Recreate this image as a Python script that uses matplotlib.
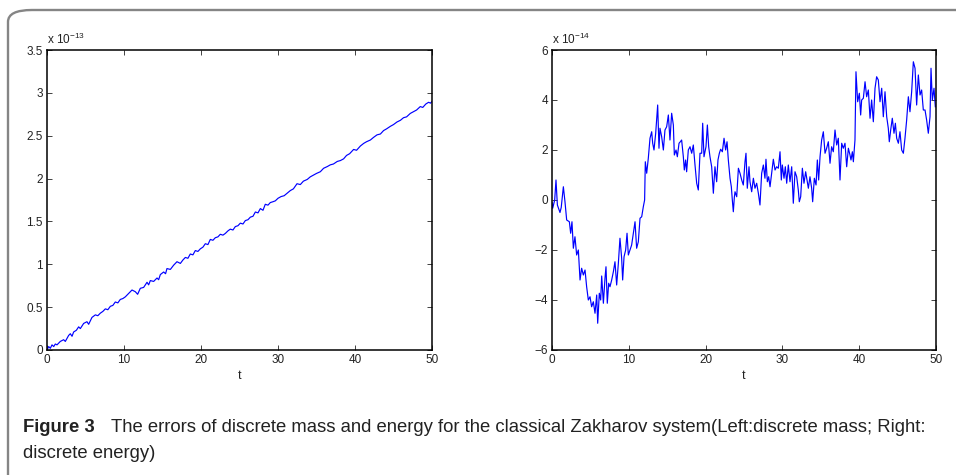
import numpy as np
import matplotlib.pyplot as plt
from matplotlib.patches import FancyBboxPatch

# discrete mass error (units of 1e-13)
t_mass = [0, 0.22, 0.43, 0.65, 0.87, 1.08, 1.3, 1.73, 2.16, 2.38, 2.81, 3.03, 3.25, 3.46, 3.81,
          4.11, 4.33, 4.76, 5.19, 5.41, 5.84, 6.28, 6.6, 6.93, 7.25, 7.58, 7.9, 8.23, 8.55, 8.87,
          9.2, 9.52, 9.85, 10.17, 10.61, 11.04, 11.47, 11.77, 12.12, 12.55, 12.99, 13.2, 13.42,
          13.85, 14.29, 14.5, 14.72, 15.15, 15.4, 15.58, 16.02, 16.45, 16.88, 17.32, 17.65, 17.97,
          18.3, 18.61, 18.95, 19.26, 19.6, 19.91, 20.25, 20.56, 20.9, 21.21, 21.55, 21.86, 22.2,
          22.51, 22.85, 23.16, 23.5, 23.81, 24.15, 24.46, 24.8, 25.11, 25.45, 25.76, 26.1, 26.41,
          26.75, 27.06, 27.4, 27.71, 28.05, 28.35, 28.7, 29.0, 29.35, 29.65, 30.0, 30.4, 30.8,
          31.2, 31.6, 32.0, 32.47, 32.9, 33.3, 33.8, 34.19, 34.6, 35.0, 35.5, 35.92, 36.4, 36.79,
          37.2, 37.7, 38.1, 38.52, 38.9, 39.3, 39.82, 40.2, 40.7, 41.12, 41.5, 42.0, 42.4, 42.86,
          43.3, 43.71, 44.1, 44.6, 45.0, 45.45, 45.9, 46.3, 46.7, 47.18, 47.6, 48.0, 48.48, 48.8,
          49.2, 49.56, 49.8, 50.0]
mass = [0, 0.04, 0.02, 0.06, 0.04, 0.07, 0.06, 0.10, 0.12, 0.10, 0.17, 0.19, 0.16, 0.21, 0.23,
        0.27, 0.25, 0.31, 0.33, 0.30, 0.38, 0.41, 0.40, 0.43, 0.45, 0.48, 0.47, 0.51, 0.52, 0.56,
        0.55, 0.59, 0.60, 0.62, 0.66, 0.70, 0.68, 0.65, 0.72, 0.73, 0.79, 0.76, 0.81,
        0.80, 0.84, 0.82, 0.88, 0.91, 0.89, 0.95, 0.94, 0.99, 1.03, 1.01, 1.05, 1.08,
        1.07, 1.12, 1.11, 1.16, 1.15, 1.18, 1.20, 1.24, 1.23, 1.29, 1.28, 1.31, 1.32,
        1.35, 1.34, 1.36, 1.39, 1.41, 1.40, 1.44, 1.45, 1.48, 1.47, 1.51, 1.52, 1.55,
        1.56, 1.61, 1.60, 1.65, 1.63, 1.70, 1.69, 1.72, 1.73, 1.74, 1.77, 1.79, 1.80,
        1.83, 1.86, 1.88, 1.94, 1.93, 1.97, 1.99, 2.02, 2.04, 2.06, 2.08, 2.12, 2.14, 2.16,
        2.17, 2.20, 2.21, 2.23, 2.27, 2.29, 2.34, 2.33, 2.38, 2.41, 2.43, 2.45, 2.48, 2.51,
        2.52, 2.56, 2.58, 2.61, 2.63, 2.66, 2.68, 2.71, 2.72, 2.76, 2.78, 2.80, 2.84, 2.83,
        2.87, 2.89, 2.88, 2.90]

# discrete energy error (units of 1e-14)
t_energy = [0.0, 0.09, 0.35, 0.52, 0.7, 1.04, 1.2, 1.48, 1.69, 1.91, 2.26, 2.43, 2.6, 2.78, 2.99,
            3.21, 3.43, 3.65, 3.86, 4.08, 4.3, 4.51, 4.73, 4.95, 5.16, 5.38, 5.6, 5.82, 5.95, 6.16,
            6.34, 6.47, 6.69, 6.9, 7.03, 7.2, 7.38, 7.55, 7.77, 7.99, 8.2, 8.42, 8.64, 8.85, 9.07,
            9.2, 9.38, 9.59, 9.77, 9.94, 10.16, 10.37, 10.59, 10.81, 11.02, 11.24, 11.46, 11.68,
            11.89, 12.06, 12.15, 12.33, 12.54, 12.76, 12.98, 13.11, 13.28, 13.5, 13.76, 13.93,
            14.06, 14.28, 14.5, 14.71, 14.93, 15.15, 15.36, 15.58, 15.8, 15.93, 16.15, 16.32,
            16.54, 16.71, 16.88, 17.1, 17.23, 17.4, 17.53, 17.75, 17.97, 18.19, 18.4, 18.62,
            18.84, 19.05, 19.27, 19.49, 19.62, 19.79, 20.05, 20.23, 20.4, 20.57, 20.79, 21.01,
            21.22, 21.44, 21.61, 21.79, 21.96, 22.18, 22.4, 22.61, 22.79, 22.96, 23.18, 23.35,
            23.48, 23.61, 23.74, 23.83, 24.05, 24.27, 24.48, 24.7, 24.91, 25.13, 25.26, 25.43,
            25.65, 25.78, 26.0, 26.22, 26.43, 26.65, 26.87, 27.08, 27.3, 27.52, 27.73, 27.86,
            28.04, 28.21, 28.39, 28.6, 28.82, 29.04, 29.25, 29.47, 29.69, 29.86, 29.99, 30.21,
            30.38, 30.56, 30.77, 30.99, 31.21, 31.42, 31.64, 31.86, 32.07, 32.2, 32.38, 32.6,
            32.81, 33.03, 33.2, 33.38, 33.59, 33.81, 33.94, 34.16, 34.38, 34.55, 34.72, 34.9,
            35.11, 35.33, 35.55, 35.76, 35.98, 36.2, 36.41, 36.63, 36.85, 37.07, 37.28, 37.5,
            37.72, 37.93, 38.15, 38.37, 38.59, 38.8, 38.93, 39.11, 39.24, 39.45, 39.58, 39.8,
            40.02, 40.19, 40.32, 40.54, 40.76, 40.97, 41.19, 41.41, 41.62, 41.84, 42.06, 42.27,
            42.49, 42.71, 42.93, 43.14, 43.36, 43.58, 43.79, 43.92, 44.1, 44.31, 44.53, 44.71,
            44.88, 45.1, 45.31, 45.53, 45.75, 45.96, 46.18, 46.4, 46.61, 46.83, 47.05, 47.27,
            47.48, 47.7, 47.92, 48.13, 48.35, 48.57, 48.78, 49.0, 49.22, 49.35, 49.52, 49.74,
            49.91]
energy = [-0.1, -0.33, 0.0, 0.8, -0.2, -0.5, -0.3, 0.53, -0.07, -0.8, -0.87, -1.33, -0.87, -1.93,
          -1.47, -2.2, -2.0, -3.2, -2.73, -3.0, -2.8, -3.47, -4.0, -3.87, -4.27, -4.07, -4.53,
          -3.8, -4.93, -3.73, -4.0, -3.04, -4.13, -3.13, -2.67, -4.13, -3.33, -3.47, -3.2, -2.87,
          -2.47, -3.4, -2.53, -1.53, -2.33, -3.2, -2.27, -2.0, -1.33, -2.2, -2.0, -1.8, -1.33,
          -0.87, -1.93, -1.67, -0.73, -0.67, -0.27, 0.0, 1.53, 1.07, 1.67, 2.47, 2.73, 2.27,
          2.0, 2.67, 3.8, 2.07, 2.87, 2.53, 2.0, 2.8, 2.93, 3.4, 2.4, 3.47, 3.0, 1.8, 2.0, 1.73,
          2.27, 2.33, 2.4, 1.73, 1.2, 1.6, 1.13, 2.0, 2.13, 1.87, 2.2, 1.4, 0.67, 0.4, 1.87,
          1.87, 3.07, 1.73, 2.13, 3.0, 2.13, 1.73, 1.33, 0.27, 1.33, 0.73, 1.6, 1.87, 2.03,
          1.93, 2.47, 2.0, 2.33, 1.6, 0.87, 0.53, 0.0, -0.47, 0.1, 0.33, 0.13, 1.27, 1.07, 0.8,
          0.6, 1.53, 1.87, 0.47, 1.33, 0.73, 0.33, 0.87, 0.47, 0.67, 0.27, -0.2, 1.07, 1.4,
          0.87, 1.63, 0.73, 0.93, 0.53, 1.07, 1.63, 1.2, 1.33, 1.27, 1.93, 0.8, 1.4, 0.87, 1.33,
          0.67, 1.4, 0.73, 1.33, -0.13, 1.13, 0.93, 0.4, -0.07, 0.13, 1.27, 0.67, 1.13, 0.8,
          0.47, 0.93, 0.47, -0.07, 0.87, 0.6, 1.6, 0.8, 1.73, 2.4, 2.73, 1.87, 2.07, 2.33, 1.47,
          2.13, 1.93, 2.8, 2.2, 2.47, 0.8, 2.27, 2.07, 2.27, 1.33, 2.07, 1.8, 1.6, 1.93, 1.53,
          2.4, 5.13, 3.93, 4.27, 3.4, 4.0, 4.07, 4.73, 4.13, 4.4, 3.27, 4.0, 3.13, 4.47, 4.93,
          4.8, 3.93, 4.47, 3.33, 4.33, 3.33, 2.87, 2.33, 2.8, 3.27, 2.67, 3.07, 2.47, 2.27,
          2.73, 2.0, 1.87, 2.47, 3.2, 4.13, 3.53, 4.33, 5.53, 5.27, 3.8, 5.0, 4.2, 4.4, 3.6,
          3.6, 3.2, 2.67, 3.33, 5.27, 4.0, 4.47, 3.73]

mass_ticks = [0, 0.5, 1, 1.5, 2, 2.5, 3, 3.5]
energy_ticks = [-6, -4, -2, 0, 2, 4, 6]
t_ticks = [0, 10, 20, 30, 40, 50]

plt.rcParams['font.family'] = ['Liberation Sans', 'DejaVu Sans']
plt.rcParams['mathtext.fontset'] = 'custom'
plt.rcParams['mathtext.rm'] = 'Liberation Sans'

fig = plt.figure(figsize=(9.56, 4.75), dpi=100)
W, H = 956.0, 475.0

# rounded frame around figure and caption
frame = FancyBboxPatch((8 / W, -30 / H), 1000 / W, 495 / H,
                       boxstyle='round,pad=0,rounding_size=0.025',
                       transform=fig.transFigure, fill=False,
                       edgecolor='#858585', linewidth=1.7, clip_on=False)
fig.patches.append(frame)


def style_axes(ax, yticks, ylim, exponent):
    ax.set_xlim(0, 50)
    ax.set_ylim(*ylim)
    ax.set_xticks(t_ticks)
    ax.set_yticks(yticks)
    ax.set_yticklabels([('%g' % v).replace('-', '\u2212') for v in yticks])
    ax.tick_params(direction='in', top=True, right=True, length=3.5, width=0.6,
                   labelsize=8.5, pad=3, colors='#222222')
    for s in ax.spines.values():
        s.set_linewidth(1.1)
        s.set_color('black')
    ax.set_xlabel('t', fontsize=9, labelpad=3, color='#222222')
    ax.text(0.0, 1.01, 'x 10$^{' + exponent + '}$', transform=ax.transAxes,
            fontsize=8.5, ha='left', va='bottom', color='#222222')


ax1 = fig.add_axes([47 / W, 125 / H, 385 / W, 300 / H])
ax1.plot(t_mass, mass, color='#0000ff', lw=0.85)
style_axes(ax1, mass_ticks, (0, 3.5), '\u221213')

ax2 = fig.add_axes([552 / W, 125 / H, 384 / W, 300 / H])
ax2.plot(t_energy, energy, color='#0000ff', lw=0.85)
style_axes(ax2, energy_ticks, (-6, 6), '\u221214')

cap_font = ['Liberation Sans', 'DejaVu Sans']
fig.text(23 / W, 1 - 432 / H, 'Figure 3', family=cap_font, fontweight='bold',
         fontsize=13.3, color='#222222', va='baseline')
fig.text(111 / W, 1 - 432 / H,
         'The errors of discrete mass and energy for the classical Zakharov system'
         '(Left:discrete mass; Right:',
         family=cap_font, fontsize=13.3, color='#222222', va='baseline')
fig.text(23 / W, 1 - 458 / H, 'discrete energy)', family=cap_font, fontsize=13.3,
         color='#222222', va='baseline')

fig.savefig('out.png', dpi=100)
